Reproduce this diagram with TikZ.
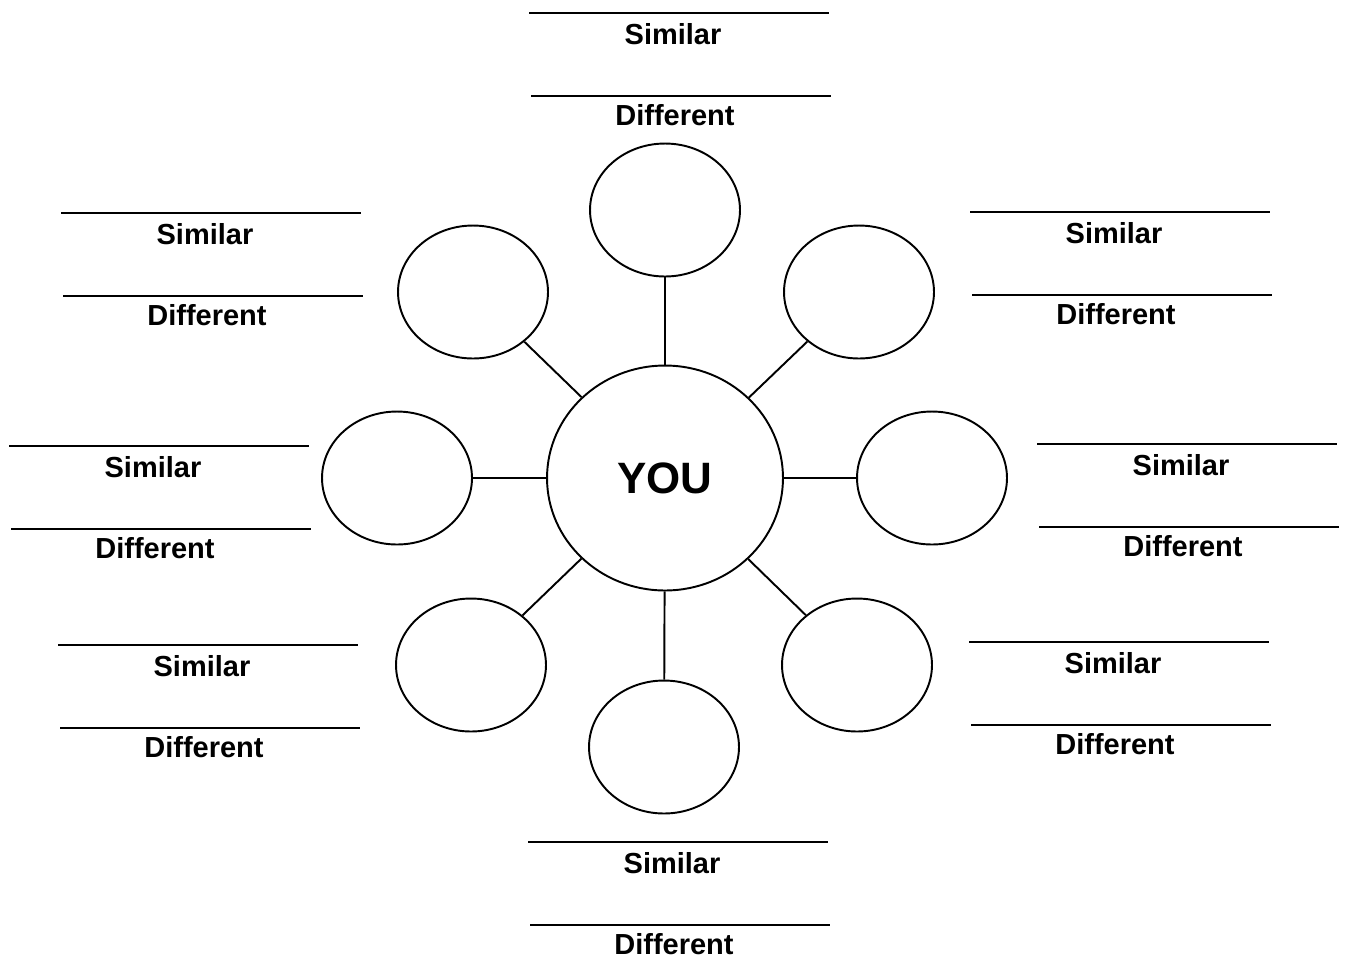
\documentclass[tikz,border=0pt]{standalone}
\usepackage{fontspec}
\setmainfont{Liberation Sans}
\usepackage{tikz}
\usetikzlibrary{shapes.geometric}
\tikzset{
  bub/.style={draw, ellipse, line width=1.1pt, inner sep=0pt, minimum width=3cm, minimum height=2.66cm},
  me/.style={draw, ellipse, line width=1.1pt, inner sep=0pt, minimum width=4.72cm, minimum height=4.5cm,
    font=\fontsize{25}{30}\selectfont\bfseries},
  spk/.style={line width=1.1pt},
  blank/.style={line width=1pt},
  lbl/.style={inner sep=0pt, font=\fontsize{16.5}{19}\selectfont\bfseries},
}
\begin{document}
\begin{tikzpicture}[x=0.02cm,y=-0.02cm]
  \useasboundingbox (0,0) rectangle (1345,958);
  % centre and bubbles
  \node[me] (you) at (665,478) {YOU};
  \node[bub] (t)  at (665,210) {};
  \node[bub] (tl) at (473,292) {};
  \node[bub] (tr) at (859,292) {};
  \node[bub] (l)  at (397,478) {};
  \node[bub] (r)  at (932,478) {};
  \node[bub] (bl) at (471,665) {};
  \node[bub] (br) at (857,665) {};
  \node[bub] (b)  at (664,747) {};
  \foreach \n in {t,tl,tr,l,r,bl,br,b}
    \draw[spk] (you) -- (\n);

  % answer lines
  \foreach \n/\x/\y in {t/679/13, tl/211/213, tr/1120/212, l/159/446,
                        r/1187/444, bl/208/645, br/1119/642, b/678/842} {
    \draw[blank] (\x-150,\y) -- (\x+150,\y);
    \node[lbl] (sim\n) at (\x-6,\y+21) {Similar};
    \draw[blank] (\x-148,\y+83) -- (\x+152,\y+83);
    \node[lbl] (dif\n) at (\x-4,\y+102) {Different};
  }
\end{tikzpicture}
\end{document}
